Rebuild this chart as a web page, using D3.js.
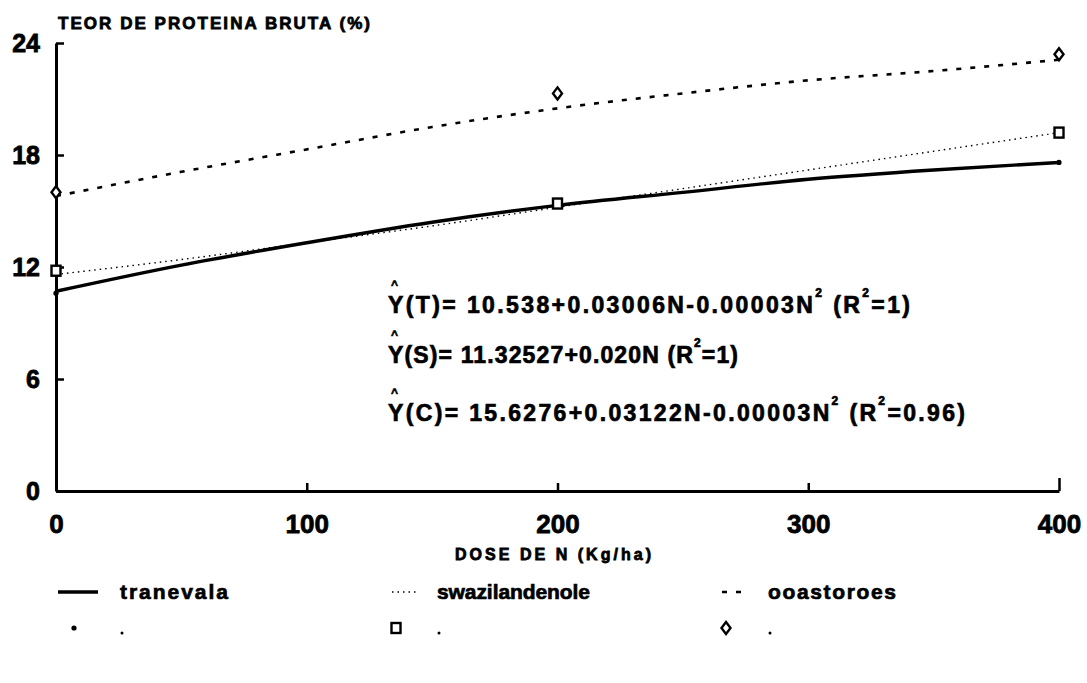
<!DOCTYPE html>
<html>
<head>
<meta charset="utf-8">
<script src="https://cdn.jsdelivr.net/npm/d3@7"></script>
<style>
  body { margin: 0; background: #fff; }
  svg text { font-family: "Liberation Sans", Arial, sans-serif; font-weight: bold; fill: #000; }
</style>
</head>
<body>
<svg id="chart" width="1087" height="683"></svg>
<script>
// observed points (dose of N, kg/ha)
const doses = [0, 200, 400];
const transvaalObs = [10.6, 15.3, 17.6];
const swaziObs = [11.8, 15.4, 19.2];
const coastObs = [16.0, 21.3, 23.4];

// fitted curves
const curveDoses = [0, 50, 100, 150, 200, 250, 300, 350, 400];
const transvaalFit = [10.7, 12.1, 13.3, 14.4, 15.3, 16.0, 16.7, 17.2, 17.6];
const swaziFit = [11.6, 12.4, 13.3, 14.2, 15.2, 16.2, 17.2, 18.2, 19.2];
const coastFit = [15.8, 17.1, 18.3, 19.5, 20.5, 21.3, 22.0, 22.5, 23.1];

const xTicks = [0, 100, 200, 300, 400];
const yTicks = [0, 6, 12, 18, 24];

const legendNames = ['tranevala', 'swazilandenole', 'ooastoroes'];

const svg = d3.select('#chart');

const x = d3.scaleLinear().domain([0, 400]).range([56, 1059]);
const y = d3.scaleLinear().domain([0, 24]).range([491, 43]);

// y axis, ticks pointing inward
let yAxis = svg.append('g')
    .attr('transform', `translate(${x(0)},0)`)
    .call(d3.axisLeft(y).tickValues(yTicks).tickSize(-8).tickSizeOuter(0).tickPadding(16));
yAxis.select('.domain').attr('stroke-width', 3);
yAxis.selectAll('.tick line').attr('stroke-width', 2.5);
yAxis.selectAll('.tick text').style('font-size', '25px').attr('stroke', '#000').attr('stroke-width', 0.8);

// x axis, ticks pointing up
let xAxis = svg.append('g')
    .attr('transform', `translate(0,${y(0)})`)
    .call(d3.axisBottom(x).tickValues(xTicks).tickSize(-8).tickSizeOuter(0).tickPadding(24));
xAxis.select('.domain').attr('stroke-width', 3);
xAxis.selectAll('.tick line').attr('stroke-width', 2.5).attr('y2', d => d === 400 ? -13 : -8);
xAxis.selectAll('.tick text').style('font-size', '26px').attr('stroke', '#000').attr('stroke-width', 0.8);

// titles
svg.append('text')
    .attr('x', 58).attr('y', 29)
    .attr('textLength', 312).attr('lengthAdjust', 'spacing')
    .style('font-size', '17px')
    .attr('stroke', '#000').attr('stroke-width', 0.8)
    .text('TEOR DE PROTEINA BRUTA (%)');

svg.append('text')
    .attr('x', 455).attr('y', 560)
    .attr('textLength', 196).attr('lengthAdjust', 'spacing')
    .style('font-size', '16px')
    .attr('stroke', '#000').attr('stroke-width', 0.8)
    .text('DOSE DE N (Kg/ha)');

// curves
const series = [
    {fit: transvaalFit, obs: transvaalObs, width: 3.4, dash: null, mark: 'dot'},
    {fit: swaziFit, obs: swaziObs, width: 1.4, dash: '1.5,4', mark: 'square'},
    {fit: coastFit, obs: coastObs, width: 2.6, dash: '5,9', mark: 'diamond'}
];

const line = d3.line()
    .x(d => x(d[0]))
    .y(d => y(d[1]))
    .curve(d3.curveMonotoneX);

svg.selectAll('path.curve')
    .data(series)
    .join('path')
    .attr('class', 'curve')
    .attr('d', s => line(curveDoses.map((n, i) => [n, s.fit[i]])))
    .attr('fill', 'none')
    .attr('stroke', '#000')
    .attr('stroke-width', s => s.width)
    .attr('stroke-dasharray', s => s.dash);

function drawMark(g, kind, cx, cy) {
    if (kind === 'dot') {
        g.append('circle').attr('cx', cx).attr('cy', cy).attr('r', 2.6).attr('fill', '#000');
    } else if (kind === 'square') {
        g.append('rect').attr('x', cx - 4.5).attr('y', cy - 5).attr('width', 9).attr('height', 10)
            .attr('fill', '#fff').attr('stroke', '#000').attr('stroke-width', 2.4);
    } else {
        g.append('path')
            .attr('d', `M${cx},${cy - 6}L${cx + 4.5},${cy}L${cx},${cy + 6}L${cx - 4.5},${cy}Z`)
            .attr('fill', '#fff').attr('stroke', '#000').attr('stroke-width', 2.4);
    }
}

const marks = svg.append('g');
series.forEach(s => {
    doses.forEach((n, i) => drawMark(marks, s.mark, x(n), y(s.obs[i])));
});

// regression equations
const eqs = [
    {yy: 313, len: 522, parts: [['Y(T)= 10.538+0.03006N-0.00003N'], ['2', 1], [' (R'], ['2', 1], ['=1)']]},
    {yy: 363, len: 350, parts: [['Y(S)= 11.32527+0.020N  (R'], ['2', 1], ['=1)']]},
    {yy: 421, len: 577, parts: [['Y(C)= 15.6276+0.03122N-0.00003N'], ['2', 1], [' (R'], ['2', 1], ['=0.96)']]}
];

eqs.forEach(eq => {
    let t = svg.append('text')
        .attr('x', 388).attr('y', eq.yy)
        .attr('textLength', eq.len).attr('lengthAdjust', 'spacing')
        .style('font-size', '23px')
        .attr('stroke', '#000').attr('stroke-width', 0.7);
    eq.parts.forEach(p => {
        if (p[1]) {
            t.append('tspan').attr('dy', -16).style('font-size', '12px').text(p[0]);
        } else {
            let ts = t.append('tspan').text(p[0]);
            if (t.selectAll('tspan').size() > 1) ts.attr('dy', 16);
        }
    });
    svg.append('text')
        .attr('x', 391).attr('y', eq.yy - 24)
        .style('font-size', '12px')
        .attr('stroke', '#000').attr('stroke-width', 0.6)
        .text('^');
});

// legend
const legendX = [58, 392, 722];
const labelX = [120, 437, 768];
const labelLen = [108, 153, 128];
const legendY = 592;

series.forEach((s, i) => {
    svg.append('line')
        .attr('x1', legendX[i]).attr('x2', legendX[i] + (i === 0 ? 40 : 26))
        .attr('y1', legendY).attr('y2', legendY)
        .attr('stroke', '#000')
        .attr('stroke-width', s.width)
        .attr('stroke-dasharray', s.dash);
    svg.append('text')
        .attr('x', labelX[i]).attr('y', legendY + 7)
        .attr('textLength', labelLen[i]).attr('lengthAdjust', 'spacing')
        .style('font-size', '21px')
        .attr('stroke', '#000').attr('stroke-width', 0.7)
        .text(legendNames[i]);
    drawMark(svg, s.mark, legendX[i] + (i === 0 ? 16 : 4), legendY + 36);
    svg.append('circle')
        .attr('cx', labelX[i] + 2).attr('cy', legendY + 41)
        .attr('r', 1.5).attr('fill', '#000');
});
</script>
</body>
</html>
